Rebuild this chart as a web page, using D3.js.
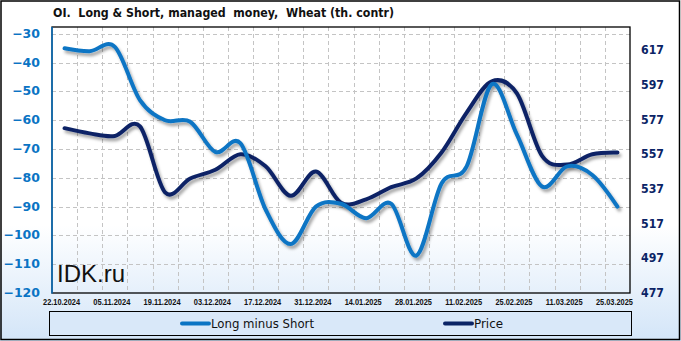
<!DOCTYPE html>
<html>
<head>
<meta charset="utf-8">
<script src="https://cdn.jsdelivr.net/npm/d3@7"></script>
<style>
html,body{margin:0;padding:0;background:#fff;}
svg{display:block;}
text{white-space:pre;}
</style>
</head>
<body>
<svg id="chart" width="681" height="341"></svg>
<script>
const categories = ["22.10.2024","29.10.2024","05.11.2024","12.11.2024","19.11.2024","26.11.2024","03.12.2024","10.12.2024","17.12.2024","24.12.2024","31.12.2024","07.01.2025","14.01.2025","21.01.2025","28.01.2025","04.02.2025","11.02.2025","18.02.2025","25.02.2025","04.03.2025","11.03.2025","18.03.2025","25.03.2025"];
const longMinusShort = [-35,-36,-34.5,-53,-60,-60.5,-71,-68,-91,-103,-90,-89,-94,-89,-107,-82,-76,-47.5,-65,-83,-76,-79,-90];
const price = [572,569,567.5,573,535,543,548,557,550,533,547,529,531,538,543,558,581,599,592,556,551,557,558];
const leftTicks = [-120,-110,-100,-90,-80,-70,-60,-50,-40,-30];
const rightTicks = [477,497,517,537,557,577,597,617];
const xTickLabels = ["22.10.2024","05.11.2024","19.11.2024","03.12.2024","17.12.2024","31.12.2024","14.01.2025","28.01.2025","11.02.2025","25.02.2025","11.03.2025","25.03.2025"];
const leftDomain = [-120,-27.6];
const rightDomain = [477,630.3];
const titleText = "OI.  Long & Short, managed  money,  Wheat (th. contr)";
const seriesNames = ["Long minus Short","Price"];
const watermark = "IDK.ru";

const W = 681, H = 341;
const plot = {l:52, r:630, t:27, b:293};
const blue = "#0a74c4", navy = "#0b2466";

const svg = d3.select("#chart");
const defs = svg.append("defs");
const grad = defs.append("linearGradient").attr("id","bg").attr("x1",0).attr("y1",0).attr("x2",0).attr("y2",1);
grad.append("stop").attr("offset","0").attr("stop-color","#ffffff");
grad.append("stop").attr("offset","0.66").attr("stop-color","#ffffff");
grad.append("stop").attr("offset","1").attr("stop-color","#d3e5f8");
const f = defs.append("filter").attr("id","shadow").attr("x","-5%").attr("y","-10%").attr("width","110%").attr("height","130%");
f.append("feDropShadow").attr("dx",2).attr("dy",3).attr("stdDeviation",1.4).attr("flood-color","#000").attr("flood-opacity",0.35);

svg.append("rect").attr("x",0).attr("y",0).attr("width",W).attr("height",H).attr("fill","url(#bg)");
svg.append("rect").attr("x",1).attr("y",1).attr("width",W-2.5).attr("height",H-2.5).attr("fill","none").attr("stroke","#000").attr("stroke-width",1.5);

const x = d3.scaleBand().domain(categories).range([plot.l, plot.r]).padding(0);
const yL = d3.scaleLinear().domain(leftDomain).range([plot.b, plot.t]);
const yR = d3.scaleLinear().domain(rightDomain).range([plot.b, plot.t]);
const cx = d => x(d) + x.bandwidth()/2;

// gridlines
const grid = svg.append("g").attr("stroke","#c4c4c4").attr("stroke-width",1).attr("stroke-dasharray","4,3");
leftTicks.filter(v => v > leftDomain[0]).forEach(v => {
  grid.append("line").attr("x1",plot.l).attr("x2",plot.r).attr("y1",Math.round(yL(v))+0.5).attr("y2",Math.round(yL(v))+0.5);
});
categories.slice(1).forEach(c => {
  const gx = Math.round(x(c)) + 0.5;
  grid.append("line").attr("x1",gx).attr("x2",gx).attr("y1",plot.t).attr("y2",plot.b);
});

// plot border
svg.append("rect").attr("x",plot.l).attr("y",plot.t).attr("width",plot.r-plot.l).attr("height",plot.b-plot.t)
  .attr("fill","none").attr("stroke","#000").attr("stroke-width",1.3);
svg.append("line").attr("x1",plot.l).attr("x2",plot.l).attr("y1",plot.t).attr("y2",plot.b+0.5).attr("stroke",blue).attr("stroke-width",1.5);

// left axis
const axL = svg.append("g").attr("transform",`translate(${plot.l-12},0)`)
  .call(d3.axisLeft(yL).tickValues(leftTicks).tickSize(0).tickPadding(0).tickFormat(d3.format("d")));
axL.select(".domain").remove();
axL.selectAll("text").attr("fill",blue).attr("font-family","DejaVu Sans, Verdana, sans-serif").attr("font-weight","bold").attr("font-size","12.5px").attr("dy","0.28em");

// right axis
const axR = svg.append("g").attr("transform",`translate(${plot.r+11},0)`)
  .call(d3.axisRight(yR).tickValues(rightTicks).tickSize(0).tickPadding(0).tickFormat(d3.format("d")));
axR.select(".domain").remove();
axR.selectAll("text").attr("fill",navy).attr("font-family","DejaVu Sans, Verdana, sans-serif").attr("font-weight","bold").attr("font-size","12px").attr("dy","0.3em").attr("textLength",23).attr("lengthAdjust","spacingAndGlyphs");

// x axis labels
const axB = svg.append("g").attr("transform",`translate(0,${plot.b})`)
  .call(d3.axisBottom(x).tickValues(xTickLabels).tickSize(0).tickPadding(0));
axB.select(".domain").remove();
axB.selectAll("text").attr("fill","#111").attr("font-family","Liberation Sans, Arial, sans-serif").attr("font-weight","bold").attr("font-size","9px")
  .attr("y",11.8).attr("dy",0).attr("dx",-3).attr("textLength",37).attr("lengthAdjust","spacingAndGlyphs");

// watermark
svg.append("text").attr("x",57).attr("y",282).attr("font-family","Liberation Sans, Arial, sans-serif").attr("font-size","24px").attr("fill","#111").text(watermark);

// lines
const lineL = d3.line().x((d,i) => cx(categories[i])).y(d => yL(d)).curve(d3.curveCatmullRom.alpha(0));
const lineR = d3.line().x((d,i) => cx(categories[i])).y(d => yR(d)).curve(d3.curveCatmullRom.alpha(0));
svg.append("path").datum(price).attr("d",lineR).attr("fill","none").attr("stroke",navy).attr("stroke-width",4).attr("stroke-linecap","round").attr("stroke-linejoin","round").attr("filter","url(#shadow)");
svg.append("path").datum(longMinusShort).attr("d",lineL).attr("fill","none").attr("stroke",blue).attr("stroke-width",4).attr("stroke-linecap","round").attr("stroke-linejoin","round").attr("filter","url(#shadow)");

// title
svg.append("text").attr("x",53).attr("y",17).attr("font-family","DejaVu Sans, Verdana, sans-serif").attr("font-weight","bold").attr("font-size","13px").attr("fill","#111")
  .attr("textLength",341).attr("lengthAdjust","spacingAndGlyphs").text(titleText);

// legend
const lg = svg.append("g");
lg.append("rect").attr("x",49.5).attr("y",311.5).attr("width",582).attr("height",24).attr("fill","#d9e8f9").attr("stroke","#000").attr("stroke-width",1);
const legendItems = [
  {name: seriesNames[0], color: blue, x1: 182, x2: 209, tx: 211, tw: 103},
  {name: seriesNames[1], color: navy, x1: 445, x2: 472, tx: 474, tw: 29}
];
legendItems.forEach(it => {
  lg.append("line").attr("x1",it.x1).attr("x2",it.x2).attr("y1",323.5).attr("y2",323.5).attr("stroke",it.color).attr("stroke-width",4).attr("stroke-linecap","round");
  lg.append("text").attr("x",it.tx).attr("y",328).attr("font-family","DejaVu Sans, Verdana, sans-serif").attr("font-size","13px").attr("fill","#111")
    .attr("textLength",it.tw).attr("lengthAdjust","spacingAndGlyphs").text(it.name);
});
</script>
</body>
</html>
